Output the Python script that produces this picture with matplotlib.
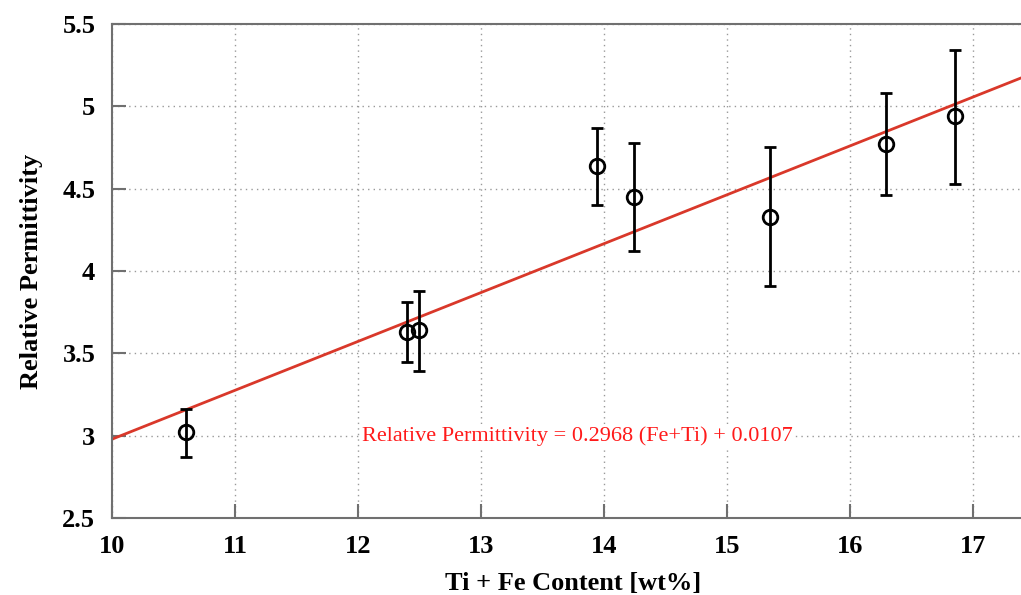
import numpy as np
import matplotlib
matplotlib.use("Agg")
from matplotlib import pyplot as plt

# Measured samples: Ti + Fe content and relative permittivity with asymmetric error bars
content = [10.60, 12.40, 12.50, 13.94, 14.24, 15.35, 16.29, 16.85]
permittivity = [3.02, 3.63, 3.64, 4.64, 4.45, 4.33, 4.77, 4.94]
err_low = [0.15, 0.18, 0.25, 0.24, 0.33, 0.42, 0.31, 0.41]
err_high = [0.14, 0.18, 0.24, 0.23, 0.33, 0.42, 0.31, 0.40]

# Linear fit
slope = 0.2968
intercept = 0.0107

plt.rcParams['font.family'] = ['Liberation Serif', 'DejaVu Serif']

fig = plt.figure(figsize=(10.21, 5.95), dpi=100)
ax = fig.add_axes([0.1097, 0.1294, 0.9035, 0.8303])

fit_x = np.array([10.0, 17.5])
ax.plot(fit_x, slope * fit_x + intercept, color='#d9382a', lw=2, zorder=2)

ax.errorbar(content, permittivity, yerr=[err_low, err_high], fmt='o', ms=10.5,
            mfc='none', mec='black', mew=2, ecolor='black', elinewidth=2,
            capsize=4.5, capthick=2, zorder=3)

ax.text(12.03, 3.0, "Relative Permittivity = %.4f (Fe+Ti) + %.4f" % (slope, intercept),
        color='#ff1a1a', fontsize=16, va='center', ha='left', zorder=4,
        bbox=dict(facecolor='white', edgecolor='none', pad=1))

ax.set_xlim(10, 17.5)
ax.set_ylim(2.5, 5.5)
ax.set_xticks(range(10, 18))
ax.set_yticks([2.5, 3, 3.5, 4, 4.5, 5, 5.5])
ax.set_yticklabels(["2.5", "3", "3.5", "4", "4.5", "5", "5.5"])

ax.grid(True, linestyle=(0, (1, 3)), color='#999999', lw=1)
ax.set_axisbelow(True)
for side in ['left', 'bottom', 'top']:
    ax.spines[side].set_color('#707070')
    ax.spines[side].set_linewidth(1.5)
ax.spines['right'].set_visible(False)

ax.tick_params(direction='in', length=10, width=1.5, color='#707070',
               labelsize=19, pad=12)
for lbl in ax.get_xticklabels() + ax.get_yticklabels():
    lbl.set_fontweight('bold')

ax.set_xlabel("Ti + Fe Content [wt%]", fontsize=19, fontweight='bold', labelpad=10)
ax.set_ylabel("Relative Permittivity", fontsize=19, fontweight='bold', labelpad=14)

plt.savefig("out.png", dpi=100)
plt.close()
